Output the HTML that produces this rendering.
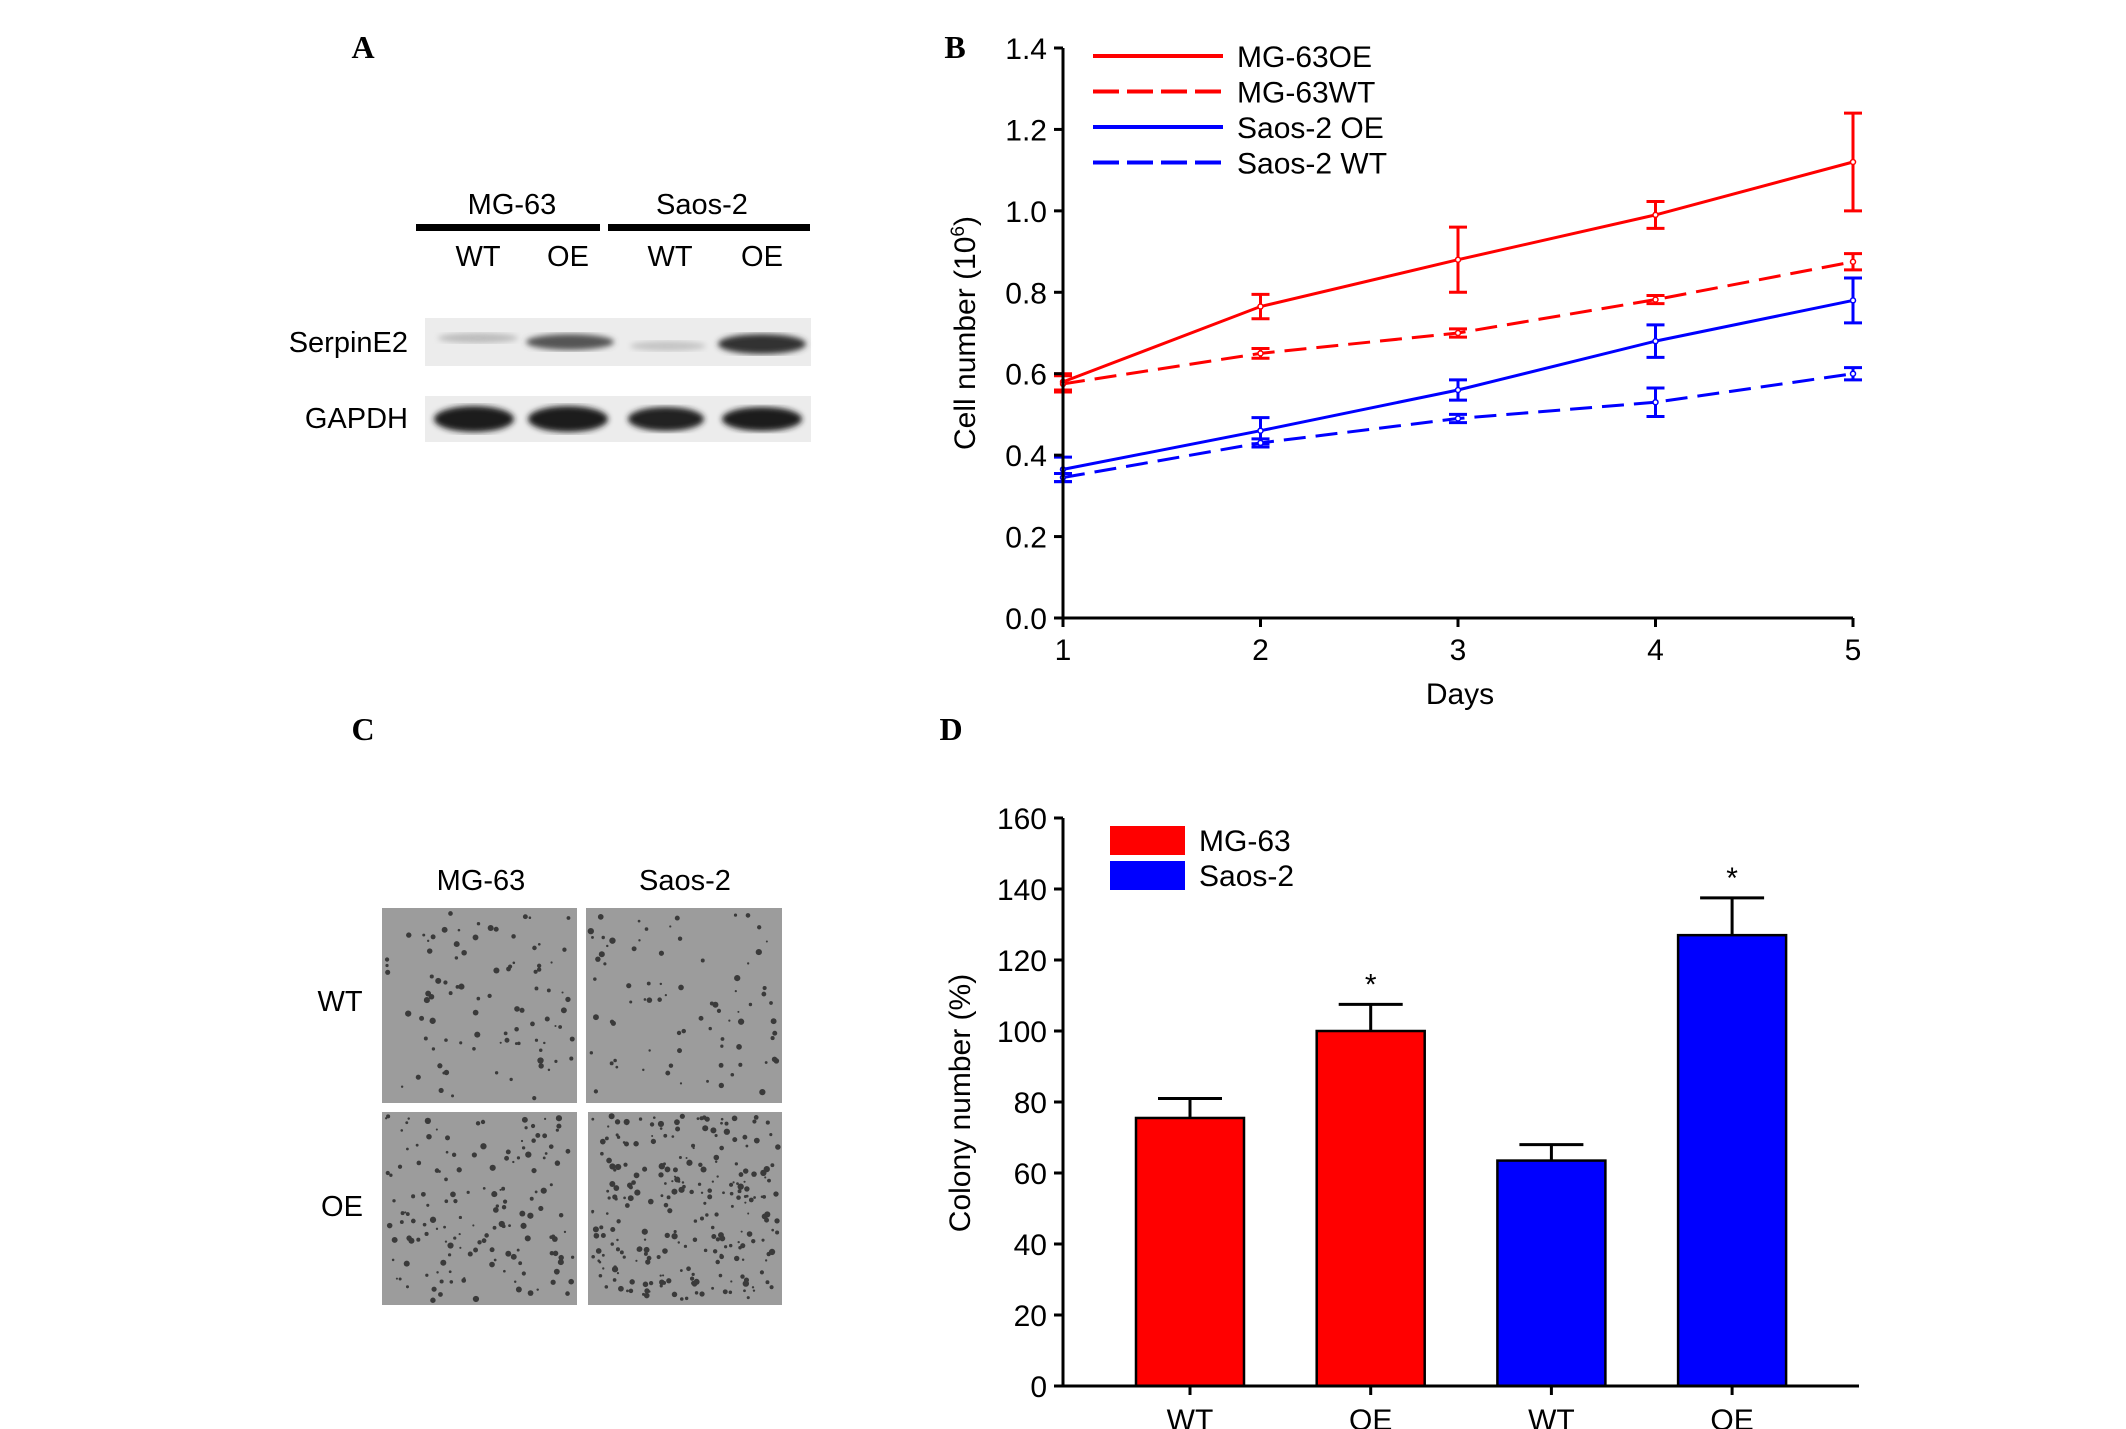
<!DOCTYPE html>
<html><head><meta charset="utf-8"><style>
html,body{margin:0;padding:0;background:#fff;}
svg{display:block;font-family:"Liberation Sans",sans-serif;}
</style></head><body>
<svg id="fig" width="2126" height="1429" viewBox="0 0 2126 1429" xmlns="http://www.w3.org/2000/svg">
<defs>
<filter id="blur2"><feGaussianBlur stdDeviation="3"/></filter>
<filter id="blur1"><feGaussianBlur stdDeviation="1"/></filter>
</defs>
<!-- Panel A -->
<g>
<text x="363" y="58" font-family="Liberation Serif" font-weight="bold" font-size="32" text-anchor="middle">A</text>
<text x="512" y="214" font-size="29" text-anchor="middle">MG-63</text>
<text x="702" y="214" font-size="29" text-anchor="middle">Saos-2</text>
<rect x="416" y="224" width="184" height="7" fill="#000"/>
<rect x="608" y="224" width="202" height="7" fill="#000"/>
<text x="478" y="266" font-size="29" text-anchor="middle">WT</text>
<text x="568" y="266" font-size="29" text-anchor="middle">OE</text>
<text x="670" y="266" font-size="29" text-anchor="middle">WT</text>
<text x="762" y="266" font-size="29" text-anchor="middle">OE</text>
<text x="408" y="352" font-size="29" text-anchor="end">SerpinE2</text>
<text x="408" y="428" font-size="29" text-anchor="end">GAPDH</text>
<g>
<rect x="425" y="318" width="386" height="48" fill="#ececec"/>
<ellipse cx="478" cy="338" rx="40" ry="5" fill="#bbb" filter="url(#blur2)"/>
<ellipse cx="570" cy="342" rx="44" ry="8" fill="#555" filter="url(#blur2)"/>
<ellipse cx="668" cy="346" rx="38" ry="5" fill="#c4c4c4" filter="url(#blur2)"/>
<ellipse cx="762" cy="344" rx="44" ry="10" fill="#333" filter="url(#blur2)"/>
</g>
<g>
<rect x="425" y="396" width="386" height="46" fill="#ececec"/>
<ellipse cx="474" cy="419" rx="40" ry="13" fill="#1a1a1a" filter="url(#blur2)"/>
<ellipse cx="568" cy="419" rx="40" ry="13" fill="#1a1a1a" filter="url(#blur2)"/>
<ellipse cx="666" cy="419" rx="38" ry="12" fill="#222" filter="url(#blur2)"/>
<ellipse cx="762" cy="419" rx="40" ry="12" fill="#1a1a1a" filter="url(#blur2)"/>
</g>
</g>
<!-- Panel C -->
<g>
<text x="363" y="740" font-family="Liberation Serif" font-weight="bold" font-size="32" text-anchor="middle">C</text>
<text x="481" y="890" font-size="29" text-anchor="middle">MG-63</text>
<text x="685" y="890" font-size="29" text-anchor="middle">Saos-2</text>
<text x="340" y="1011" font-size="29" text-anchor="middle">WT</text>
<text x="342" y="1216" font-size="29" text-anchor="middle">OE</text>
<g id="plates"></g>
</g>
<g id="chartB"></g>
<g id="chartD"></g>
</svg>
<script>
// ---------- Panel B data ----------
const days = [1, 2, 3, 4, 5];
const bTicks = ['0.0','0.2','0.4','0.6','0.8','1.0','1.2','1.4'];
const seriesNames = ['MG-63OE', 'MG-63WT', 'Saos-2 OE', 'Saos-2 WT'];
const mg63OE = [0.58, 0.765, 0.88, 0.99, 1.12];
const mg63OEerr = [0.02, 0.03, 0.08, 0.033, 0.12];
const mg63WT = [0.575, 0.65, 0.70, 0.782, 0.875];
const mg63WTerr = [0.02, 0.012, 0.01, 0.01, 0.02];
const saosOE = [0.365, 0.46, 0.56, 0.68, 0.78];
const saosOEerr = [0.03, 0.032, 0.025, 0.04, 0.055];
const saosWT = [0.345, 0.43, 0.49, 0.53, 0.60];
const saosWTerr = [0.01, 0.01, 0.01, 0.035, 0.015];
// ---------- Panel D data ----------
const dCats = ['WT', 'OE', 'WT', 'OE'];
const dGroups = ['MG-63', 'MG-63', 'Saos-2', 'Saos-2'];
const dValues = [75.5, 100, 63.5, 127];
const dErrors = [5.5, 7.5, 4.5, 10.5];
const dSig = [false, true, false, true];
const dTicks = ['0','20','40','60','80','100','120','140','160'];

const NS = 'http://www.w3.org/2000/svg';
function mk(parent, tag, attrs, text) {
  const e = document.createElementNS(NS, tag);
  for (const k in attrs) e.setAttribute(k, attrs[k]);
  if (text !== undefined) e.textContent = text;
  parent.appendChild(e);
  return e;
}

// Colony plate textures (decorative image placeholders)
(function(){
  const g = document.getElementById('plates');
  const plates = [[382,908,195,195,90],[586,908,196,195,80],[382,1112,195,193,150],[588,1112,194,193,260]];
  let s = 12345;
  function rnd(){ s = (s*1103515245+12345) % 2147483648; return s/2147483648; }
  plates.forEach((p,i)=>{
    const r = mk(g,'rect',{x:p[0],y:p[1],width:p[2],height:p[3],fill:'#9c9c9c'});
    
    
    for (let k=0;k<p[4];k++){
      const d = mk(g,'circle',{cx:p[0]+4+rnd()*(p[2]-8),cy:p[1]+4+rnd()*(p[3]-8),r:1+rnd()*2.2,fill:'#3a3a3a'});
      
      
    }
  });
})();

// ---------- Draw B ----------
(function(){
  const g = document.getElementById('chartB');
  const x0 = 1063, x1 = 1853, y0 = 618, y1 = 48;
  const xs = d => x0 + (d - 1) / 4 * (x1 - x0);
  const ys = v => y0 - v / 1.4 * (y0 - y1);
  let t = mk(g,'text',{x:955,y:58,'font-family':'Liberation Serif','font-weight':'bold','font-size':32,'text-anchor':'middle'},'B');
  
  
  const series = [mg63OE, mg63WT, saosOE, saosWT];
  const errs = [mg63OEerr, mg63WTerr, saosOEerr, saosWTerr];
  const colors = ['#ff0000','#ff0000','#0000ff','#0000ff'];
  const dashed = [false,true,false,true];
  series.forEach((vals, si) => {
    const pts = vals.map((v,i)=> xs(days[i]) + ',' + ys(v)).join(' ');
    const l = mk(g,'polyline',{points:pts,fill:'none',stroke:colors[si],'stroke-width':3,'stroke-dasharray':dashed[si]?'22 10':'none'});
    
    
    vals.forEach((v,i)=>{
      const x = xs(days[i]), e = errs[si][i];
      const eb = mk(g,'path',{d:`M${x},${ys(v-e)}V${ys(v+e)}M${x-9},${ys(v-e)}h18M${x-9},${ys(v+e)}h18`,stroke:colors[si],'stroke-width':3,fill:'none'});
      
      
      const c = mk(g,'circle',{cx:x,cy:ys(v),r:2.5,fill:'#fff',stroke:colors[si],'stroke-width':1.5});
      
      
    });
    // legend
    const ly = 56 + si * 35.5;
    const ll = mk(g,'line',{x1:1093,x2:1223,y1:ly,y2:ly,stroke:colors[si],'stroke-width':4,'stroke-dasharray':dashed[si]?'26 8':'none'});
    
    
    const lt = mk(g,'text',{x:1237,y:ly+11,'font-size':30},seriesNames[si]);
    
    
  });
  const ax = mk(g,'path',{d:`M${x0},${y1}V${y0}H${x1}`,stroke:'#000','stroke-width':3,fill:'none'});
  
  
  bTicks.forEach(tk=>{
    const y = ys(parseFloat(tk));
    const tl = mk(g,'line',{x1:x0-9,x2:x0,y1:y,y2:y,stroke:'#000','stroke-width':3});
    
    
    const tt = mk(g,'text',{x:x0-16,y:y+11,'font-size':30,'text-anchor':'end'},tk);
    
    
  });
  days.forEach(d=>{
    const x = xs(d);
    const tl = mk(g,'line',{x1:x,x2:x,y1:y0,y2:y0+9,stroke:'#000','stroke-width':3});
    
    
    const tt = mk(g,'text',{x:x,y:660,'font-size':30,'text-anchor':'middle'},String(d));
    
    
  });
  const xt = mk(g,'text',{x:1460,y:704,'font-size':30,'text-anchor':'middle'},'Days');
  
  
  const yt = mk(g,'text',{x:0,y:0,'font-size':30,'text-anchor':'middle',transform:'translate(975,333) rotate(-90)'});
  
  
  mk(yt,'tspan',{},'Cell number (10');
  mk(yt,'tspan',{'font-size':19,dy:-11},'6');
  mk(yt,'tspan',{dy:11},')');
})();

// ---------- Draw D ----------
(function(){
  const g = document.getElementById('chartD');
  const x0 = 1063, x1 = 1859, y0 = 1386, y1 = 818;
  const ys = v => y0 - v / 160 * (y0 - y1);
  const centers = dCats.map((c,i)=> 1190 + i * 180.7);
  const bw = 108;
  let t = mk(g,'text',{x:951,y:740,'font-family':'Liberation Serif','font-weight':'bold','font-size':32,'text-anchor':'middle'},'D');
  
  
  dValues.forEach((v,i)=>{
    const col = dGroups[i] === 'MG-63' ? '#ff0000' : '#0000ff';
    const cx = centers[i], top = ys(v), et = ys(v + dErrors[i]);
    const eb = mk(g,'path',{d:`M${cx},${top}V${et}M${cx-32},${et}h64`,stroke:'#000','stroke-width':3,fill:'none'});
    
    
    const b = mk(g,'rect',{x:cx-bw/2,y:top,width:bw,height:y0-top,fill:col,stroke:'#000','stroke-width':2.5});
    
    
    if (dSig[i]) {
      const s = mk(g,'text',{x:cx,y:et-10,'font-size':30,'text-anchor':'middle'},'*');
      
      
    }
  });
  const ax = mk(g,'path',{d:`M${x0},${y1}V${y0}H${x1}`,stroke:'#000','stroke-width':3,fill:'none'});
  
  
  dTicks.forEach(tk=>{
    const y = ys(parseFloat(tk));
    const tl = mk(g,'line',{x1:x0-9,x2:x0,y1:y,y2:y,stroke:'#000','stroke-width':3});
    
    
    const tt = mk(g,'text',{x:x0-16,y:y+11,'font-size':30,'text-anchor':'end'},tk);
    
    
  });
  dCats.forEach((c,i)=>{
    const x = centers[i];
    const tl = mk(g,'line',{x1:x,x2:x,y1:y0,y2:y0+9,stroke:'#000','stroke-width':3});
    
    
    const tt = mk(g,'text',{x:x,y:1430,'font-size':30,'text-anchor':'middle'},c);
    
    
  });
  const lg = [['MG-63','#ff0000',826],['Saos-2','#0000ff',861]];
  lg.forEach(l=>{
    const r = mk(g,'rect',{x:1110,y:l[2],width:75,height:29,fill:l[1]});
    
    
    const tt = mk(g,'text',{x:1199,y:l[2]+25,'font-size':30},l[0]);
    
    
  });
  const yt = mk(g,'text',{x:0,y:0,'font-size':30,'text-anchor':'middle',transform:'translate(970,1103) rotate(-90)'},'Colony number (%)');
  
  
})();
</script>
</body></html>
